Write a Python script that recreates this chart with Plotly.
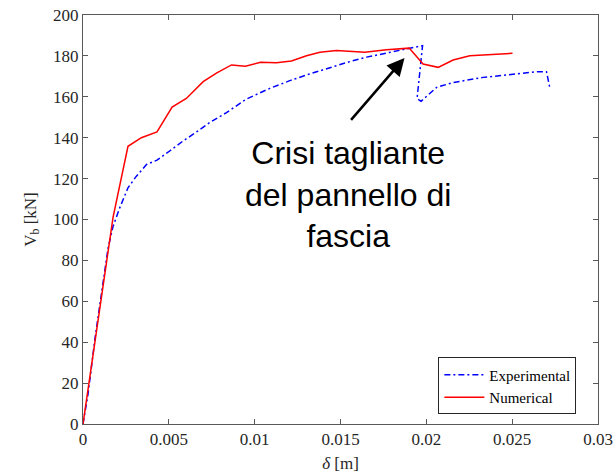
import plotly.graph_objects as go

exp_x = [0.0, 0.0003, 0.0007, 0.0011, 0.00146, 0.00175, 0.00214, 0.00262, 0.00311, 0.0037, 0.00431,
         0.00505, 0.00583, 0.00661, 0.00738, 0.00836, 0.00952, 0.01088, 0.01205, 0.01321, 0.01438,
         0.01554, 0.01652, 0.01846, 0.01978, 0.01946, 0.01969, 0.0206, 0.02156, 0.02331, 0.02526,
         0.02652, 0.027, 0.0272]
exp_y = [0.0, 15.0, 42.0, 65.0, 86.0, 96.6, 105.7, 115.5, 121.2, 126.9, 129.0,
         133.5, 138.4, 142.8, 147.4, 152.3, 158.9, 164.1, 167.9, 171.2, 174.4,
         177.2, 179.4, 182.6, 185.0, 159.2, 157.8, 164.6, 167.0, 169.5, 171.1,
         172.3, 172.3, 164.1]

num_x = [0.0, 0.0011, 0.00175, 0.00262, 0.0034, 0.00431, 0.00519, 0.00602, 0.0070, 0.00777,
         0.00865, 0.00946, 0.01034, 0.01127, 0.01214, 0.01302, 0.0138, 0.01477, 0.01641,
         0.01768, 0.019, 0.01981, 0.02069, 0.02156, 0.02253, 0.02502]
num_y = [0.0, 62.0, 101.0, 135.8, 140.0, 142.8, 155.0, 159.2, 167.4, 171.6,
         175.6, 174.9, 176.9, 176.6, 177.5, 180.1, 181.8, 182.6, 181.8,
         183.0, 183.8, 176.0, 174.4, 178.0, 180.1, 181.3]

x_ticks = [0, 0.005, 0.01, 0.015, 0.02, 0.025, 0.03]
x_tick_labels = ["0", "0.005", "0.01", "0.015", "0.02", "0.025", "0.03"]
y_ticks = [0, 20, 40, 60, 80, 100, 120, 140, 160, 180, 200]

serif = "Liberation Serif, Times New Roman, serif"

fig = go.Figure()
fig.add_trace(go.Scatter(x=exp_x, y=exp_y, mode="lines", name="Experimental",
                         line=dict(color="#0000ff", width=1.5, dash="6px,3px,2px,3px")))
fig.add_trace(go.Scatter(x=num_x, y=num_y, mode="lines", name="Numerical",
                         line=dict(color="#ff0000", width=1.5)))

axis_common = dict(showline=True, linecolor="#595959", linewidth=1, mirror="ticks",
                   ticks="inside", ticklen=5, tickcolor="#595959", showgrid=False,
                   zeroline=False, automargin=False, ticklabeloverflow="allow",
                   tickfont=dict(family=serif, size=17, color="#262626"))

fig.update_xaxes(range=[0, 0.03], tickvals=x_ticks, ticktext=x_tick_labels,
                 title=dict(text="<i>δ</i> [m]", font=dict(family=serif, size=17, color="#262626"),
                            standoff=10), **axis_common)
fig.update_yaxes(range=[0, 200], tickvals=y_ticks,
                 title=dict(text="V<sub>b</sub> [kN]", font=dict(family=serif, size=17, color="#262626"),
                            standoff=12), **axis_common)

fig.add_annotation(x=0.01873, y=179.0, ax=0.01554, ay=148, xref="x", yref="y",
                   axref="x", ayref="y", text="", showarrow=True, arrowhead=2,
                   arrowsize=1.4, arrowwidth=2.5, arrowcolor="black")
fig.add_annotation(x=0.01545, y=112, xref="x", yref="y",
                   text="Crisi tagliante<br>del pannello di<br>fascia", showarrow=False,
                   font=dict(family="Liberation Sans, Arial, sans-serif", size=32, color="black"),
                   align="center", xanchor="center", yanchor="middle")

fig.update_layout(
    width=613, height=473,
    margin=dict(l=83, r=15, t=15, b=49),
    paper_bgcolor="white", plot_bgcolor="white",
    legend=dict(x=0.958, y=0.093, xanchor="right", yanchor="middle",
                bordercolor="#262626", borderwidth=1, bgcolor="white",
                font=dict(family=serif, size=15, color="black"),
                tracegroupgap=0, itemwidth=40),
    showlegend=True,
)

fig.write_html("out.html", config={"displayModeBar": False},
               post_script="document.body.style.margin='0';document.body.style.overflow='hidden';")
